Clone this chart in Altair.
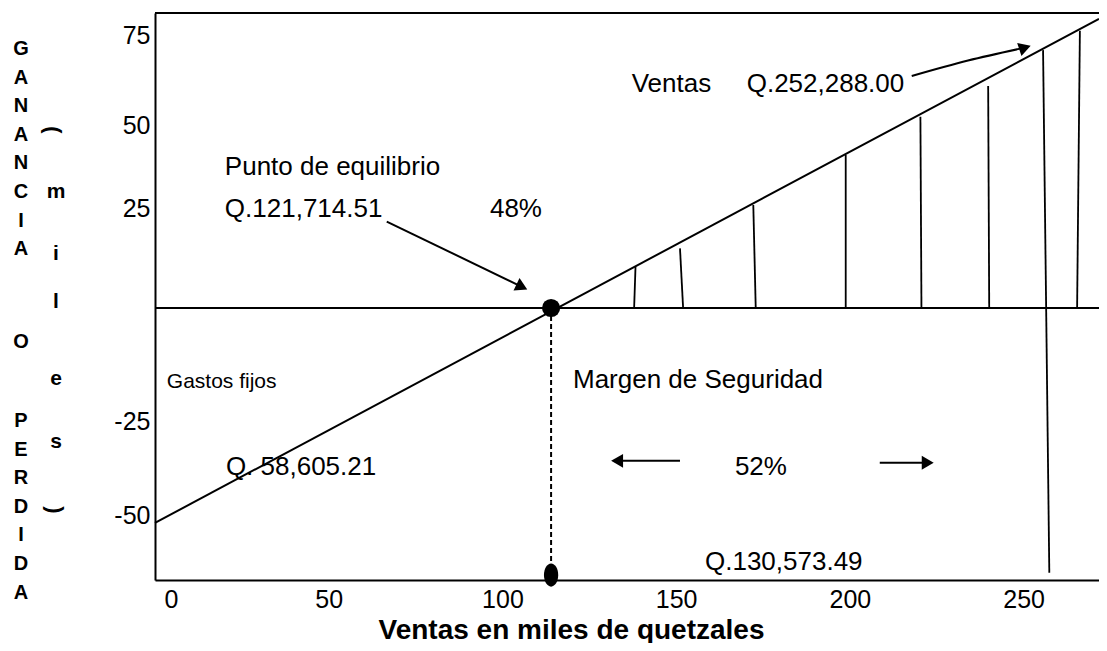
import altair as alt
import pandas as pd

FONT = "Liberation Sans"

# ---- axes ----
x_ticks = [0, 50, 100, 150, 200, 250]
y_ticks = [-50, -25, 25, 50, 75]
x_domain = [0, 271.7]
# the hand-drawn vertical axis is irregular: piecewise scale through its labels
y_breaks = [-67.3, -50, -25, 0, 25, 50, 75, 81.1]

# ---- sloped line (ganancia / perdida) ----
line_x = [0, 271.7]
line_y = [-52.1, 79.5]

# ---- hatch lines in the profit zone ----
hatch_x_top = [138.3, 151.1, 172.2, 198.8, 220.3, 239.8, 255.6, 266.2]
hatch_x_bot = [137.9, 152.0, 172.9, 198.8, 220.6, 240.1, 257.4, 265.4]
hatch_top = [10.3, 14.9, 25.9, 41.0, 52.3, 60.8, 70.8, 76.2]
hatch_bot = [0, 0, 0, 0, 0, 0, -65.4, 0]

# ---- break-even point and its foot ----
be_x = [114.0]
be_y = [0]
foot_x = [114.0]
foot_y = [-66.0]

# ---- arrows ----
arrow_id = ["pe", "pe", "v", "v", "v", "l", "l", "r", "r"]
arrow_x = [66.7, 105.6, 217.8, 234.0, 250.4, 151.1, 133.0, 208.6, 222.4]
arrow_y = [21.6, 5.3, 63.6, 67.9, 71.5, -35.6, -35.6, -36.1, -36.1]
head_x = [105.6, 250.4, 133.0, 222.4]
head_y = [5.3, 71.5, -35.6, -36.1]
head_angle = [25.8, 342, 180, 0]

# ---- annotations ----
labels = ["Punto de equilibrio", "Q.121,714.51", "48%", "Ventas", "Q.252,288.00",
          "Margen de Seguridad", "Q. 58,605.21", "52%", "Q.130,573.49"]
label_x = [20.1, 20.1, 96.4, 137.2, 170.3, 120.3, 20.4, 166.9, 158.3]
label_y = [34.9, 22.8, 22.8, 59.25, 59.25, -17.8, -39.4, -39.4, -64.6]
small_labels = ["Gastos fijos"]
small_x = [3.4]
small_y = [-17.8]

# vertical side title, stacked letter by letter
side_words = ["GANANCIA", "O", "PERDIDA"]
side_units = ["m", "i", "l", "e", "s"]

W, H = 944, 567

xs = alt.Scale(domain=x_domain, nice=False, zero=False)
ys = alt.Scale(domain=y_breaks, range=[567, 502, 408, 295, 195, 112, 22, 0],
               nice=False, zero=False)

X = alt.X("x:Q", scale=xs, axis=alt.Axis(
    values=x_ticks, ticks=False, grid=False, domainColor="black", domainWidth=2,
    labelFont=FONT, labelFontSize=25, labelColor="black", labelPadding=7,
    labelFlush=True, labelFlushOffset=-9,
    title="Ventas en miles de quetzales", titleFont=FONT, titleFontSize=28,
    titleFontWeight="bold", titleColor="black", titleX=416, titleY=58,
    titleAlign="center", titleBaseline="alphabetic"))
Y = alt.Y("y:Q", scale=ys, axis=alt.Axis(
    values=y_ticks, ticks=False, grid=False, domainColor="black", domainWidth=2,
    labelFont=FONT, labelFontSize=25, labelColor="black", labelPadding=5,
    labelExpr="datum.value + ''", title=""))
X2 = alt.X2("x2:Q")
Y2 = alt.Y2("y2:Q")

line_df = pd.DataFrame({"x": line_x, "y": line_y})
hatch_df = pd.DataFrame({"x": hatch_x_top, "x2": hatch_x_bot, "y": hatch_top, "y2": hatch_bot})
frame_df = pd.DataFrame({"y": [0, y_breaks[-1]]})
be_df = pd.DataFrame({"x": be_x, "y": be_y})
foot_df = pd.DataFrame({"x": foot_x, "y": foot_y})
dash_df = pd.DataFrame({"x": be_x, "x2": foot_x, "y": be_y, "y2": foot_y})
arrow_df = pd.DataFrame({"id": arrow_id, "x": arrow_x, "y": arrow_y,
                         "o": list(range(len(arrow_x)))})
head_df = pd.DataFrame({"x": head_x, "y": head_y, "a": head_angle})
lab_df = pd.DataFrame({"x": label_x, "y": label_y, "t": labels})
small_df = pd.DataFrame({"x": small_x, "y": small_y, "t": small_labels})
one = pd.DataFrame({"k": [0]})

frame = alt.Chart(frame_df).mark_rule(color="black", strokeWidth=2).encode(y=Y)
line = alt.Chart(line_df).mark_line(color="black", strokeWidth=2).encode(x=X, y=Y)
hatch = alt.Chart(hatch_df).mark_rule(color="black", strokeWidth=1.8).encode(x=X, x2=X2, y=Y, y2=Y2)
dash = alt.Chart(dash_df).mark_rule(color="black", strokeWidth=2, strokeDash=[5, 3]).encode(
    x=X, x2=X2, y=Y, y2=Y2)
dot = alt.Chart(be_df).mark_point(shape="circle", filled=True, size=330, color="black",
                                  opacity=1).encode(x=X, y=Y)
foot = alt.Chart(foot_df).mark_point(
    shape="M0,-1 A0.62,1 0 1,1 0,1 A0.62,1 0 1,1 0,-1 Z", filled=True, size=530,
    color="black", opacity=1).encode(x=X, y=Y)
arrows = alt.Chart(arrow_df).mark_line(color="black", strokeWidth=2,
                                       interpolate="monotone").encode(
    x=X, y=Y, detail="id:N", order="o:Q")
heads = alt.Chart(head_df).mark_point(shape="triangle-right", filled=True, size=190,
                                      color="black", opacity=1).encode(
    x=X, y=Y, angle=alt.Angle("a:Q", scale=None))
texts = alt.Chart(lab_df).mark_text(align="left", baseline="alphabetic", font=FONT,
                                    fontSize=26, color="black").encode(x=X, y=Y, text="t:N")
small = alt.Chart(small_df).mark_text(align="left", baseline="alphabetic", font=FONT,
                                      fontSize=21, color="black").encode(x=X, y=Y, text="t:N")

side_layers = []
# left column: GANANCIA / O / PERDIDA
for word, top in zip(side_words, [26, 319, 398]):
    side_layers.append(alt.Chart(one).mark_text(
        align="center", baseline="top", font=FONT, fontSize=20, fontWeight="bold",
        color="black", lineHeight=28.6, lineBreak="\n").encode(
        x=alt.value(-134), y=alt.value(top), text=alt.value("\n".join(word))))
# second column: ( m i l e s )
for ch, top in zip(side_units, [168, 230, 278, 355, 418]):
    side_layers.append(alt.Chart(one).mark_text(
        align="center", baseline="top", font=FONT, fontSize=21, fontWeight="bold",
        color="black").encode(x=alt.value(-99), y=alt.value(top), text=alt.value(ch)))
for ch, xv, yv in [("(", -102, 117), (")", -100, 497)]:
    side_layers.append(alt.Chart(one).mark_text(
        align="center", baseline="middle", font=FONT, fontSize=22, fontWeight="bold",
        color="black", angle=90).encode(x=alt.value(xv), y=alt.value(yv), text=alt.value(ch)))

chart = alt.layer(
    frame, hatch, line, dash, dot, foot, arrows, heads, texts, small, *side_layers
).properties(
    width=W, height=H,
    autosize=alt.AutoSizeParams(type="none"),
    padding={"left": 147, "top": 5, "right": 0, "bottom": 63},
).configure_view(stroke=None).configure(background="white")

chart.save("out.html", embed_options={"renderer": "svg", "actions": False})
